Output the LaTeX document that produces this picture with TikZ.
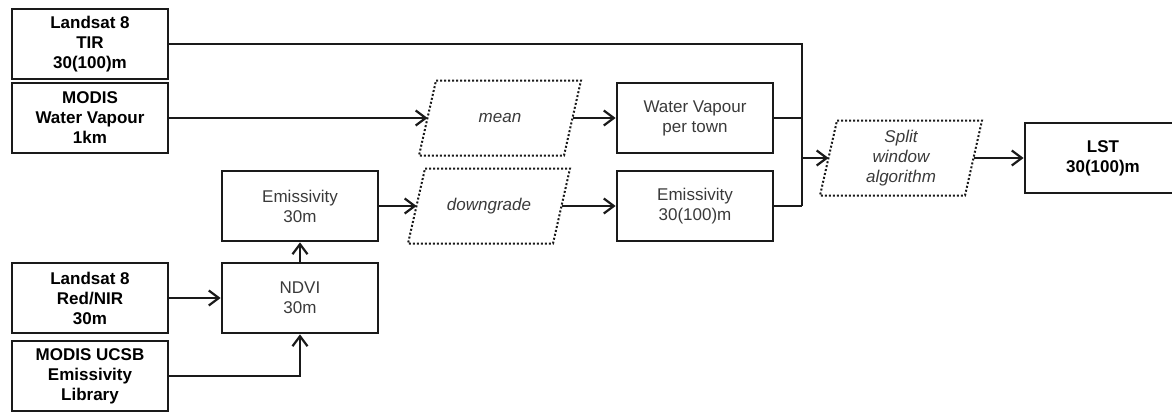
\documentclass[tikz,border=0pt]{standalone}
\usepackage{fontspec}
\setmainfont{Liberation Sans}
\usetikzlibrary{arrows.meta, positioning}
\definecolor{cline}{HTML}{1A1A1A}
\definecolor{ctext}{HTML}{3A3A3A}
\tikzset{
  every picture/.style={x=1pt, y=-1pt, line width=2pt},
  box/.style={draw=cline, line width=2.8pt, minimum width=156pt, minimum height=70pt, align=center, inner sep=2pt, font=\fontsize{17}{20}\selectfont, text=ctext},
  inbox/.style={box, font=\fontsize{17}{20}\selectfont\bfseries, text=black},
  proc/.style={minimum width=143pt, minimum height=73pt, align=center, inner sep=1pt, font=\fontsize{17}{20}\selectfont\itshape, text=ctext},
  frame/.style={draw=cline, dotted, line width=2pt},
  arrow/.style={-{Straight Barb[length=10pt, width=15pt]}, draw=cline, line width=2.2pt},
  link/.style={draw=cline, line width=2.2pt},
}

\begin{document}
\begin{tikzpicture}
  \clip (0,0) rectangle (1172,412);
  % inputs
  \node[inbox] (tir) at (90,44) {Landsat 8\\TIR\\30(100)m};
  \node[inbox] (wv) at (90,118) {MODIS\\Water Vapour\\1km};
  \node[inbox] (red) at (90,298) {Landsat 8\\Red/NIR\\30m};
  \node[inbox] (ucsb) at (90,376) {MODIS UCSB\\Emissivity\\Library};
  % processing
  \node[box] (ndvi) at (300,298) {NDVI\\30m};
  \node[box] (emis) at (300,206) {Emissivity\\30m};
  \node[proc] (mean) at (500,118) {mean};
  \node[proc] (down) at (489,206) {downgrade};
  \node[box] (wvt) at (695,118) {Water Vapour\\per town};
  \node[box] (emis100) at (695,206) {Emissivity\\30(100)m};
  \node[proc] (split) at (901,158) {Split\\window\\algorithm};
  \node[inbox] (lst) at (1103,158) {LST\\30(100)m};
  \coordinate (bus) at (802,206);
  % slanted dotted frames
  \foreach \n in {mean, down, split}
    \draw[frame] ([xshift=8.5pt]\n.north west) -- ([xshift=8.5pt]\n.north east)
      -- ([xshift=-8.5pt]\n.south east) -- ([xshift=-8.5pt]\n.south west) -- cycle;
  % connectors
  \draw[arrow] (wv.east) -- (mean.west);
  \draw[arrow] (mean.east) -- (wvt.west);
  \draw[arrow] (red.east) -- (ndvi.west);
  \draw[arrow] (ucsb.east) -| (ndvi.south);
  \draw[arrow] (ndvi.north) -- (emis.south);
  \draw[arrow] (emis.east) -- (down.west);
  \draw[arrow] (down.east) -- (emis100.west);
  \draw[link] (tir.east) -| (bus);
  \draw[link] (wvt.east) -- (wvt.east -| bus);
  \draw[link] (emis100.east) -- (bus);
  \draw[arrow] (bus |- split.west) -- (split.west);
  \draw[arrow] (split.east) -- (lst.west);
\end{tikzpicture}
\end{document}
